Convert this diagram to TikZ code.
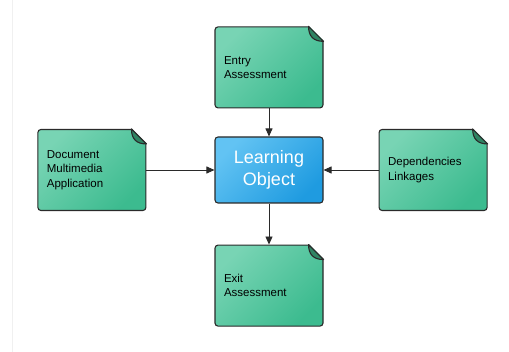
\documentclass[tikz,border=0pt]{standalone}
\usepackage{fontspec}
\setmainfont{Liberation Sans}
\usetikzlibrary{positioning,arrows.meta}

\definecolor{docLight}{HTML}{78D4B4}
\definecolor{docDark}{HTML}{3CBB8F}
\definecolor{foldGreen}{HTML}{2F8463}
\definecolor{objLight}{HTML}{62C3F3}
\definecolor{objDark}{HTML}{1F9BE0}
\definecolor{edgeGray}{HTML}{2A2A2A}

% cut the top right corner of a page node and fold it over
\newcommand{\foldcorner}[1]{%
  \fill[white] ([shift={(-15pt,0.9pt)}]#1.north east)
    -- ([shift={(0.9pt,0.9pt)}]#1.north east)
    -- ([shift={(0.9pt,-15pt)}]#1.north east) -- cycle;
  \draw[fill=foldGreen, draw=edgeGray, line width=1.1pt, line join=round]
    ([xshift=-15pt]#1.north east)
    .. controls ([shift={(-15pt,-10pt)}]#1.north east)
    and ([shift={(-10pt,-15pt)}]#1.north east)
    .. ([yshift=-15pt]#1.north east) -- cycle;
}

\tikzset{
  docbox/.style={
    rectangle, rounded corners=3pt, draw=edgeGray, line width=1.1pt,
    top color=docLight, bottom color=docDark, shading angle=45,
    minimum width=108pt, minimum height=81pt, text width=90pt,
    inner sep=9pt, align=left, text=black,
    font=\fontsize{11.5}{14.5}\selectfont},
  objbox/.style={
    rectangle, rounded corners=3pt, draw=edgeGray, line width=1.1pt,
    top color=objLight, bottom color=objDark, shading angle=45,
    minimum width=108pt, minimum height=66pt, align=center, text=white,
    font=\fontsize{18}{22}\selectfont},
  conn/.style={line width=0.9pt, draw=edgeGray,
    -{Triangle[length=8pt,width=7pt]}},
}

\begin{document}
\begin{tikzpicture}
  \useasboundingbox (0,0) rectangle (509pt,-352pt);
  \draw[gray!12, line width=0.8pt] (12pt,0) -- (12pt,-352pt);

  \node[objbox] (lo) at (269pt,-170pt) {Learning\\Object};
  \node[docbox, above=28pt of lo] (entry) {Entry\\Assessment};
  \node[docbox, below=41pt of lo] (exit) {Exit\\Assessment};
  \node[docbox, left=68pt of lo] (doc) {Document\\Multimedia\\Application};
  \node[docbox, right=55pt of lo] (deps) {Dependencies\\Linkages};

  \foreach \n in {entry,exit,doc,deps} {
    \foldcorner{\n}
  }

  \draw[conn] (entry) -- (lo);
  \draw[conn] (doc) -- (lo);
  \draw[conn] (deps) -- (lo);
  \draw[conn] (lo) -- (exit);
\end{tikzpicture}
\end{document}
